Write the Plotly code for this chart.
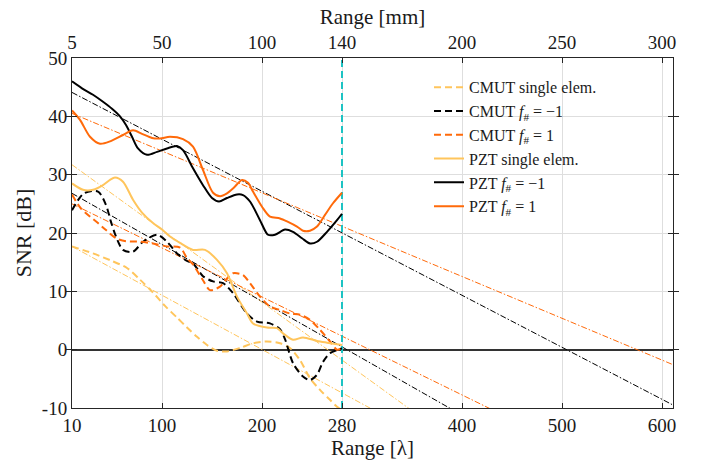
import plotly.graph_objects as go

# ---------------- data (range in wavelengths, SNR in dB) ----------------
pzt_m1_x = [10, 20, 31, 41, 50, 58, 64, 70, 76, 85, 95, 105, 115, 121, 131, 141, 150, 157, 165, 175, 181, 188, 198, 206, 213, 223, 231, 240, 248, 255, 265, 275, 280]
pzt_m1_y = [46.0, 44.8, 43.7, 42.5, 41.3, 40.0, 38.5, 36.5, 34.5, 33.4, 33.9, 34.5, 34.9, 34.2, 31.1, 28.2, 26.0, 25.4, 26.0, 26.6, 26.5, 25.4, 22.2, 19.7, 19.7, 20.6, 20.2, 19.1, 18.2, 18.5, 20.2, 22.2, 23.3]

pzt_p1_x = [10, 18, 28, 38, 48, 61, 71, 80, 90, 98, 108, 121, 131, 141, 151, 158, 165, 172, 180, 186, 191, 200, 208, 218, 226, 235, 241, 248, 255, 263, 271, 280]
pzt_p1_y = [41.0, 39.4, 36.5, 35.3, 35.7, 36.8, 37.6, 37.0, 36.3, 36.2, 36.5, 36.1, 34.8, 30.8, 26.9, 26.3, 26.8, 27.8, 29.1, 28.6, 27.1, 24.5, 22.8, 22.5, 21.9, 21.1, 20.4, 20.4, 21.1, 23.1, 25.1, 26.9]

pzt_se_x = [10, 21, 31, 41, 48, 53, 61, 71, 80, 91, 100, 108, 118, 131, 143, 155, 165, 175, 185, 191, 205, 215, 221, 231, 241, 255, 265, 280]
pzt_se_y = [28.5, 27.4, 27.4, 28.2, 29.1, 29.5, 28.8, 25.7, 23.5, 21.7, 20.6, 19.4, 18.3, 17.1, 17.1, 15.4, 13.1, 9.1, 6.2, 4.5, 3.8, 3.7, 2.8, 1.7, 2.1, 1.5, 1.2, 0.8]

cmut_m1_x = [10, 22, 36, 44, 49, 54, 61, 71, 81, 95, 105, 115, 125, 131, 141, 151, 161, 171, 185, 195, 208, 218, 223, 231, 241, 248, 255, 261, 268, 276, 280]
cmut_m1_y = [23.9, 26.8, 27.1, 24.8, 21.9, 19.4, 17.1, 16.8, 18.5, 19.7, 18.5, 16.5, 15.2, 14.8, 12.6, 11.7, 11.4, 9.7, 6.2, 4.8, 4.5, 3.5, 1.8, -2.3, -4.6, -5.2, -4.3, -2.1, -0.6, 0.0, 0.2]

cmut_p1_x = [10, 19, 36, 44, 54, 64, 78, 91, 105, 118, 125, 131, 141, 148, 158, 165, 171, 181, 188, 198, 208, 218, 228, 238, 248, 258, 268, 275, 280]
cmut_p1_y = [26.6, 24.2, 21.7, 20.5, 19.1, 18.6, 18.5, 18.2, 17.7, 17.5, 15.7, 14.6, 11.9, 10.2, 10.8, 12.2, 13.1, 12.8, 11.4, 9.1, 7.4, 6.8, 6.2, 6.0, 5.1, 3.4, 1.4, 0.0, 0.3]

cmut_se_x = [10, 31, 50, 65, 78, 91, 103, 115, 125, 135, 145, 155, 165, 178, 191, 205, 218, 228, 238, 248, 258, 268, 275, 282]
cmut_se_y = [17.7, 16.5, 15.2, 14.0, 12.0, 9.8, 7.5, 5.5, 3.8, 2.2, 0.8, -0.2, -0.3, 0.3, 1.1, 1.4, 1.1, 0.3, -1.8, -4.9, -6.9, -8.6, -9.8, -10.6]

# linear fits (values at range = 10 and 610 wavelengths)
fit_x = [10, 610]
fit_pzt_m1 = [44.1, -9.4]
fit_pzt_p1 = [40.5, -2.5]
fit_pzt_se = [31.7, -42.7]
fit_cmut_se = [17.7, -38.1]
fit_cmut_m1 = [26.8, -31.7]
fit_cmut_p1 = [25.0, -25.4]

# depth-of-interest marker
marker_x = [280, 280]
marker_y = [-10, 50]

# axes ticks
lam_ticks = [10, 100, 200, 280, 400, 500, 600]
mm_labels = ['5', '50', '100', '140', '200', '250', '300']
snr_ticks = [-10, 0, 10, 20, 30, 40, 50]
snr_labels = ['-10', '0', '10', '20', '30', '40', '50']

# ---------------- styles ----------------
BLACK = '#000000'
ORANGE = '#FF6A0A'
LIGHT = '#FFC55C'
CYAN = '#1CC3C3'
FONT = 'Liberation Serif'
FIT_DASH = '6px,2px,1.5px,2px'
DATA_DASH = '7px,4px'

fig = go.Figure()

fits = [
    (fit_pzt_se, LIGHT), (fit_cmut_se, LIGHT),
    (fit_cmut_m1, BLACK), (fit_cmut_p1, ORANGE),
    (fit_pzt_m1, BLACK), (fit_pzt_p1, ORANGE),
]
for fy, col in fits:
    fig.add_trace(go.Scatter(x=fit_x, y=fy, mode='lines', showlegend=False,
                             hoverinfo='skip',
                             line=dict(color=col, width=1, dash=FIT_DASH)))

fig.add_trace(go.Scatter(x=marker_x, y=marker_y, mode='lines', showlegend=False,
                         line=dict(color=CYAN, width=2, dash='7px,4px')))

series = [
    (cmut_se_x, cmut_se_y, LIGHT, DATA_DASH, 'CMUT single elem.'),
    (cmut_m1_x, cmut_m1_y, BLACK, DATA_DASH, 'CMUT <i>f</i><sub>#</sub> = −1'),
    (cmut_p1_x, cmut_p1_y, ORANGE, DATA_DASH, 'CMUT <i>f</i><sub>#</sub> = 1'),
    (pzt_se_x, pzt_se_y, LIGHT, 'solid', 'PZT single elem.'),
    (pzt_m1_x, pzt_m1_y, BLACK, 'solid', 'PZT <i>f</i><sub>#</sub> = −1'),
    (pzt_p1_x, pzt_p1_y, ORANGE, 'solid', 'PZT <i>f</i><sub>#</sub> = 1'),
]
for sx, sy, col, dash, name in series:
    fig.add_trace(go.Scatter(x=sx, y=sy, mode='lines', name=name,
                             line=dict(color=col, width=2, dash=dash,
                                       shape='spline', smoothing=0.8)))

# invisible trace to anchor top axis
fig.add_trace(go.Scatter(x=lam_ticks, y=[None] * len(lam_ticks), xaxis='x2',
                         mode='lines', showlegend=False, hoverinfo='skip'))

AX = '#262626'
GRID = '#DEDEDE'
TICK = 19
TITLE = 21
fig.update_layout(
    width=706, height=463,
    margin=dict(l=72, r=33, t=58, b=55),
    paper_bgcolor='white', plot_bgcolor='white',
    font=dict(family=FONT, size=TICK, color='#1a1a1a'),
    showlegend=True,
    legend=dict(x=0.594, y=0.965, xanchor='left', yanchor='top',
                bgcolor='rgba(0,0,0,0)', borderwidth=0,
                font=dict(family=FONT, size=16, color='#1a1a1a'),
                tracegroupgap=0),
    xaxis=dict(range=[10, 611], tickmode='array', tickvals=lam_ticks,
               ticktext=[str(v) for v in lam_ticks],
               ticks='inside', ticklen=5, tickcolor=AX,
               showgrid=True, gridcolor=GRID, gridwidth=1,
               showline=True, linecolor=AX, linewidth=1, mirror=True,
               zeroline=False,
               title=dict(text='Range [λ]', font=dict(size=TITLE), standoff=2),
               tickfont=dict(size=TICK)),
    xaxis2=dict(range=[10, 611], overlaying='x', side='top', anchor='y',
                tickmode='array', tickvals=lam_ticks, ticktext=mm_labels,
                ticks='inside', ticklen=5, tickcolor=AX,
                showgrid=False, showline=True, linecolor=AX, linewidth=1,
                zeroline=False,
                title=dict(text='Range [mm]', font=dict(size=TITLE), standoff=2),
                tickfont=dict(size=TICK)),
    yaxis=dict(range=[-10, 50], tickmode='array', tickvals=snr_ticks,
               ticktext=snr_labels,
               ticks='inside', ticklen=5, tickcolor=AX,
               showgrid=True, gridcolor=GRID, gridwidth=1,
               showline=True, linecolor=AX, linewidth=1, mirror='allticks',
               zeroline=True, zerolinecolor='#333333', zerolinewidth=1.5,
               title=dict(text='SNR [dB]', font=dict(size=TITLE + 1), standoff=4),
               tickfont=dict(size=TICK)),
)

fig.write_html('out.html')
